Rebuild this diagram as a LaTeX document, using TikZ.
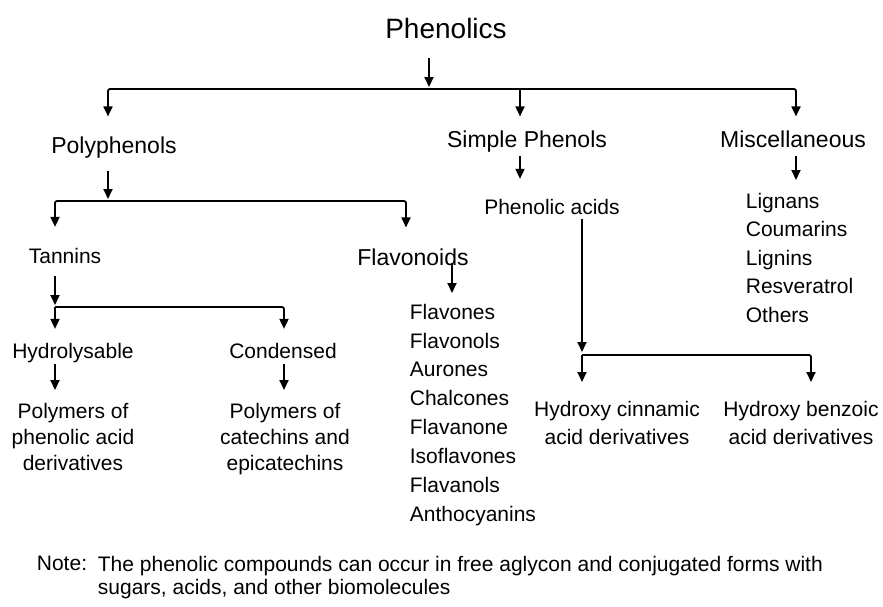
\documentclass[tikz,border=0pt]{standalone}
\usepackage{fontspec}
\setmainfont{Liberation Sans}
\usetikzlibrary{arrows.meta}

\begin{document}
\begin{tikzpicture}[x=1pt, y=-1pt, line width=1.8pt,
    every node/.style={inner sep=0pt, font=\fontsize{21}{28.7}\selectfont},
    head/.style={font=\fontsize{23}{27}\selectfont},
    arr/.style={-{Triangle[width=9pt,length=10pt]}},
    bar/.style={rounded corners=2pt}]

    \useasboundingbox (0,0) rectangle (883,606);

    % Phenolics
    \node[font=\fontsize{28}{32}\selectfont, anchor=base] (phen) at (446,38) {Phenolics};
    \coordinate (j1) at (429,89);
    \coordinate (dpoly) at (108,89);
    \coordinate (dsimp) at (520,89);
    \coordinate (dmisc) at (796,89);
    \draw[arr, shorten <=19pt, shorten >=2pt] (phen.south -| j1) -- (j1);

    % main groups
    \node[head, anchor=base] (poly) at (114,153) {Polyphenols};
    \node[head, anchor=base] (simp) at (527,147) {Simple Phenols};
    \node[head, anchor=base] (misc) at (793,147) {Miscellaneous};
    \draw[arr, bar, shorten >=19pt] (j1) -| (dpoly |- poly.north);
    \draw[arr, bar, shorten >=13pt] (j1) -| (dmisc |- misc.north);
    \draw[arr, shorten >=13pt] (dsimp) -- (dsimp |- simp.north);

    % polyphenols
    \coordinate (j2) at (108,201);
    \coordinate (dtan) at (55,201);
    \coordinate (dflav) at (406,201);
    \draw[arr, shorten <=12pt, shorten >=2pt] (poly.south -| j2) -- (j2);
    \node[anchor=base] (tan) at (65,263) {Tannins};
    \node[head, anchor=base] (flav) at (413,265) {Flavonoids};
    \draw[arr, bar, shorten >=20pt] (j2) -| (dtan |- tan.north);
    \draw[arr, bar, shorten >=20pt] (j2) -| (dflav |- flav.north);

    % tannins
    \coordinate (j3) at (55,307);
    \coordinate (dcond) at (284,307);
    \draw[arr, shorten <=12pt, shorten >=2pt] (tan.south -| j3) -- (j3);
    \node[anchor=base] (hyd) at (73,358) {Hydrolysable};
    \node[anchor=base] (cond) at (283,358) {Condensed};
    \draw[arr, shorten >=13pt] (j3) -- (j3 |- hyd.north);
    \draw[arr, bar, shorten >=13pt] (j3) -| (dcond |- cond.north);
    \node[anchor=north, align=center, font=\fontsize{21}{26}\selectfont] (hydpol) at (73,402) {Polymers of\\phenolic acid\\derivatives};
    \node[anchor=north, align=center, font=\fontsize{21}{26}\selectfont] (condpol) at (285,402) {Polymers of\\catechins and\\epicatechins};
    \draw[arr, shorten <=1pt, shorten >=12pt] (hyd.south -| j3) -- (hydpol.north -| j3);
    \draw[arr, shorten <=5pt, shorten >=12pt] (cond.south -| dcond) -- (condpol.north -| dcond);

    % flavonoids
    \node[anchor=north west, align=left, font=\fontsize{21}{28.9}\selectfont] (flavlist) at (409,303) {Flavones\\Flavonols\\Aurones\\Chalcones\\Flavanone\\Isoflavones\\Flavanols\\Anthocyanins};
    \draw[arr, shorten <=-3pt, shorten >=10pt] ([xshift=39pt]flav.south) -- ([xshift=39pt]flav.south |- flavlist.north);

    % simple phenols
    \node[anchor=base] (phac) at (552,214) {Phenolic acids};
    \draw[arr, shorten <=3pt, shorten >=19pt] (simp.south -| dsimp) -- (dsimp |- phac.north);
    \coordinate (j4) at (582,355);
    \coordinate (dhben) at (811,355);
    \draw[arr, shorten <=4pt, shorten >=3pt] (phac.south -| j4) -- (j4);
    \node[anchor=north, align=center, font=\fontsize{21}{28}\selectfont] (hcin) at (617,400) {Hydroxy cinnamic\\acid derivatives};
    \node[anchor=north, align=center, font=\fontsize{21}{28}\selectfont] (hben) at (801,400) {Hydroxy benzoic\\acid derivatives};
    \draw[arr, shorten >=18pt] (j4) -- (j4 |- hcin.north);
    \draw[arr, bar, shorten >=18pt] (j4) -| (dhben |- hben.north);

    % miscellaneous
    \node[anchor=north west, align=left, font=\fontsize{21}{28.5}\selectfont] (misclist) at (745,192) {Lignans\\Coumarins\\Lignins\\Resveratrol\\Others};
    \draw[arr, shorten <=8pt, shorten >=12pt] (misc.south -| dmisc) -- (dmisc |- misclist.north);

    % note
    \node[anchor=base west, font=\fontsize{21}{23}\selectfont] (notehd) at (36,570) {Note:};
    \node[anchor=north west, align=left, font=\fontsize{21}{23}\selectfont] (notetx) at (97,555) {The phenolic compounds can occur in free aglycon and conjugated forms with\\sugars, acids, and other biomolecules};

\end{tikzpicture}
\end{document}
